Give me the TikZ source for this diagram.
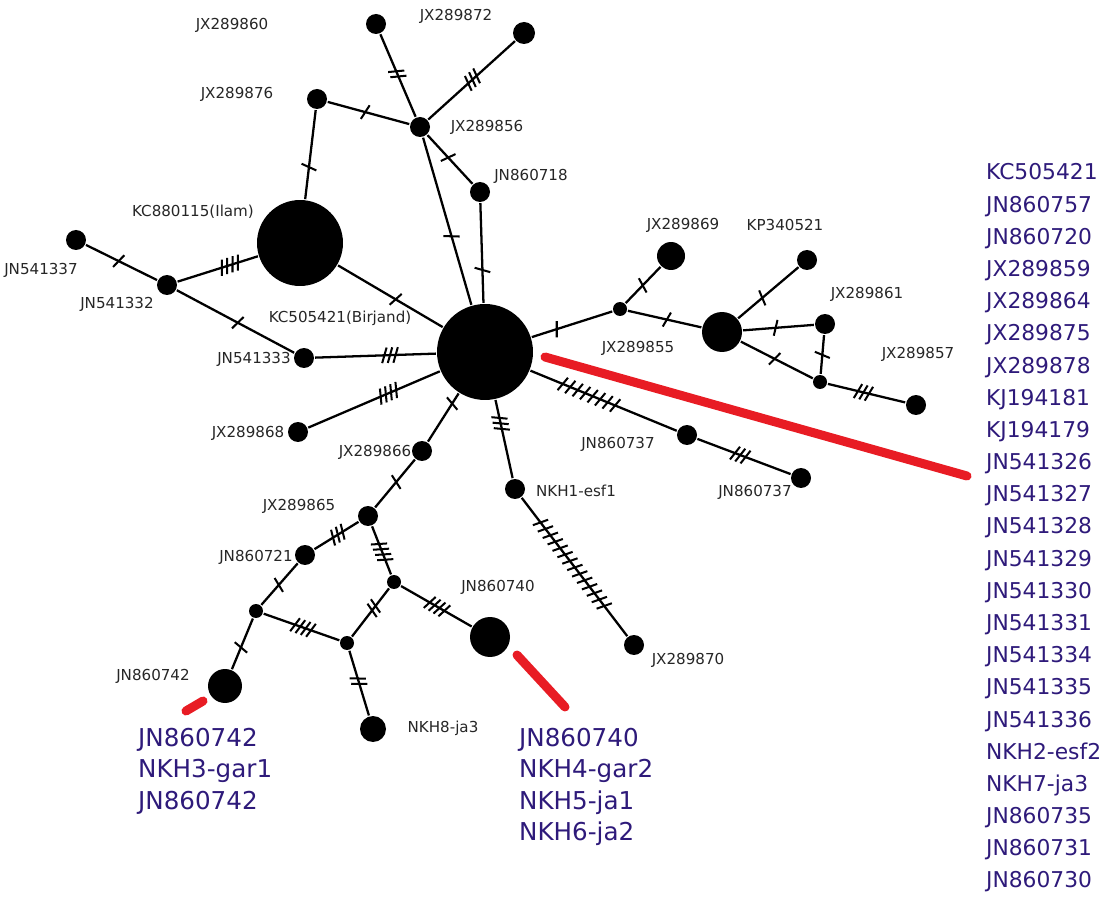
\documentclass[tikz,border=0pt]{standalone}
\usepackage{fontspec}
\setmainfont{DejaVu Sans}
\usepackage{tikz}
\usetikzlibrary{decorations.markings}
\definecolor{seqblue}{RGB}{46,26,122}
\definecolor{pen}{RGB}{232,28,36}
\tikzset{hap/.style={circle, fill=black, inner sep=0pt, minimum size=#1}, hap/.default=0.4cm,
	med/.style={hap=0.28cm},
	lbl/.style={font=\fontsize{8.6}{10}\selectfont, text=black!85, inner sep=0pt},
	seq/.style={font=\fontsize{12.4}{15}\selectfont, text=seqblue, anchor=base west, inner sep=0pt},
	seqbig/.style={seq, font=\fontsize{14}{17}\selectfont},
	hash/.style n args={3}{postaction={decorate, decoration={markings, mark=at position #1 with {\foreach \k in {1,...,#2}{\draw[line width=1.15pt] ({(\k-(#2+1)/2)*#3-1.4pt},-4.4pt) -- ++(2.8pt,8.8pt);}}}}},
	mut/.style 2 args={hash={#1}{#2}{3.2pt}},
	mutw/.style 2 args={hash={#1}{#2}{4.6pt}},
	pointer/.style={draw=pen, line width=0.18cm, line cap=round}}

\begin{document}
\begin{tikzpicture}[x=0.02cm, y=-0.02cm, line width=1.3pt]
	\useasboundingbox (0,0) rectangle (1116,898);
	% haplotypes
	\node[hap=1.92cm] (KC505421) at (485,352) {};
	\node[hap=1.72cm] (KC880115) at (300,243) {};
	\node[hap] (JX289876) at (317,99) {};
	\node[hap] (JX289860) at (376,24) {};
	\node[hap=0.44cm] (JX289872) at (524,33) {};
	\node[hap] (JX289856) at (420,127) {};
	\node[hap] (JN860718) at (480,192) {};
	\node[hap] (JN541337) at (76,240) {};
	\node[hap] (JN541332) at (167,285) {};
	\node[hap] (JN541333) at (304,358) {};
	\node[hap] (JX289868) at (298,432) {};
	\node[hap] (JX289866) at (422,451) {};
	\node[hap] (JX289865) at (368,516) {};
	\node[hap] (JN860721) at (305,555) {};
	\node[med] (m1) at (256,611) {};
	\node[med] (m2) at (394,582) {};
	\node[med] (m3) at (347,643) {};
	\node[hap=0.8cm] (JN860740) at (490,637) {};
	\node[hap=0.68cm] (JN860742) at (225,686) {};
	\node[hap=0.52cm] (NKH8) at (373,729) {};
	\node[hap] (NKH1) at (515,489) {};
	\node[hap] (JX289870) at (634,645) {};
	\node[med] (m5) at (620,309) {};
	\node[hap=0.56cm] (JX289869) at (671,256) {};
	\node[hap=0.8cm] (JX289855) at (722,332) {};
	\node[hap] (KP340521) at (807,260) {};
	\node[hap] (JX289861) at (825,324) {};
	\node[med] (m4) at (820,382) {};
	\node[hap] (JX289857) at (916,405) {};
	\node[hap] (JN860737a) at (687,435) {};
	\node[hap] (JN860737b) at (801,478) {};

	% labels
	\node[lbl] (t-JX289860) at (232,25) {JX289860};
	\node[lbl] (t-JX289872) at (456,16) {JX289872};
	\node[lbl] (t-JX289876) at (237,94) {JX289876};
	\node[lbl] (t-JX289856) at (487,127) {JX289856};
	\node[lbl] (t-JN860718) at (531,176) {JN860718};
	\node[lbl] (t-KC880115) at (193,212) {KC880115(Ilam)};
	\node[lbl] (t-JN541337) at (41,270) {JN541337};
	\node[lbl] (t-JN541332) at (117,304) {JN541332};
	\node[lbl] (t-KC505421) at (340,318) {KC505421(Birjand)};
	\node[lbl] (t-JN541333) at (254,359) {JN541333};
	\node[lbl] (t-JX289868) at (248,433) {JX289868};
	\node[lbl] (t-JX289866) at (375,452) {JX289866};
	\node[lbl] (t-JX289865) at (299,506) {JX289865};
	\node[lbl] (t-JN860721) at (256,557) {JN860721};
	\node[lbl] (t-JN860740) at (498,587) {JN860740};
	\node[lbl] (t-JN860742) at (153,676) {JN860742};
	\node[lbl] (t-NKH8) at (443,728) {NKH8-ja3};
	\node[lbl] (t-NKH1) at (576,491) {NKH1-esf1};
	\node[lbl] (t-JX289870) at (688,660) {JX289870};
	\node[lbl] (t-JX289869) at (683,225) {JX289869};
	\node[lbl] (t-KP340521) at (785,225) {KP340521};
	\node[lbl] (t-JX289861) at (867,294) {JX289861};
	\node[lbl] (t-JX289857) at (918,354) {JX289857};
	\node[lbl] (t-JX289855) at (638,348) {JX289855};
	\node[lbl] (t-JN860737a) at (618,444) {JN860737};
	\node[lbl] (t-JN860737b) at (755,492) {JN860737};

	% links with mutation steps
	\draw
		(KC505421) edge[mut={0.45}{1}] (KC880115)
		(KC505421) edge[mut={0.41}{1}] (JX289856)
		(JX289856) edge[mut={0.46}{1}] (JN860718)
		(JN860718) edge[mut={0.67}{1}] (KC505421)
		(JX289856) edge[mut={0.54}{1}] (JX289876)
		(JX289876) edge[mut={0.64}{1}] (KC880115)
		(JX289856) edge[mut={0.52}{2}] (JX289860)
		(JX289856) edge[mut={0.51}{3}] (JX289872)
		(KC880115) edge[mut={0.35}{4}] (JN541332)
		(JN541332) edge[mut={0.54}{1}] (JN541337)
		(JN541332) edge[mut={0.52}{1}] (JN541333)
		(JN541333) edge[mut={0.62}{3}] (KC505421)
		(JX289868) edge[mut={0.61}{4}] (KC505421)
		(JX289866) edge[mut={0.79}{1}] (KC505421)
		(KC505421) edge[mut={0.30}{3}] (NKH1)
		(JX289866) edge[mut={0.47}{1}] (JX289865)
		(JX289865) edge[mut={0.47}{3}] (JN860721)
		(JX289865) edge[mut={0.53}{4}] (m2)
		(JN860721) edge[mut={0.52}{1}] (m1)
		(m1) edge[mut={0.57}{1}] (JN860742)
		(m1) edge[mut={0.52}{4}] (m3)
		(m3) edge[mut={0.59}{2}] (m2)
		(m2) edge[mut={0.51}{4}] (JN860740)
		(m3) edge[mut={0.47}{2}] (NKH8)
		(NKH1) edge[mutw={0.48}{14}] (JX289870)
		(KC505421) edge[mutw={0.40}{8}] (JN860737a)
		(JN860737a) edge[mut={0.46}{3}] (JN860737b)
		(KC505421) edge[mut={0.31}{1}] (m5)
		(m5) edge[mut={0.49}{1}] (JX289869)
		(m5) edge[mut={0.53}{1}] (JX289855)
		(JX289855) edge[mut={0.40}{1}] (KP340521)
		(JX289855) edge[mut={0.46}{1}] (JX289861)
		(JX289861) edge[mut={0.51}{1}] (m4)
		(JX289855) edge[mut={0.47}{1}] (m4)
		(m4) edge[mut={0.46}{3}] (JX289857);

	% red pointers
	\coordinate (p1) at (545,357);
	\coordinate (p2) at (967,476);
	\coordinate (p3) at (186,711);
	\coordinate (p4) at (203,701);
	\coordinate (p5) at (517,655);
	\coordinate (p6) at (565,707);
	\draw[pointer] (p1) -- (p2);
	\draw[pointer] (p3) -- (p4);
	\draw[pointer] (p5) -- (p6);

	% sequence lists
	\foreach \s [count=\i] in {KC505421, JN860757, JN860720, JX289859, JX289864, JX289875, JX289878, KJ194181, KJ194179, JN541326, JN541327, JN541328, JN541329, JN541330, JN541331, JN541334, JN541335, JN541336, NKH2-esf2, NKH7-ja3, JN860735, JN860731, JN860730}
		\node[seq] (r\i) at (985,{180+32.18*(\i-1)}) {\s};
	\foreach \s [count=\i] in {JN860742, NKH3-gar1, JN860742}
		\node[seqbig] (a\i) at (137,{746+31.5*(\i-1)}) {\s};
	\foreach \s [count=\i] in {JN860740, NKH4-gar2, NKH5-ja1, NKH6-ja2}
		\node[seqbig] (b\i) at (518,{746+31.5*(\i-1)}) {\s};
\end{tikzpicture}
\end{document}
